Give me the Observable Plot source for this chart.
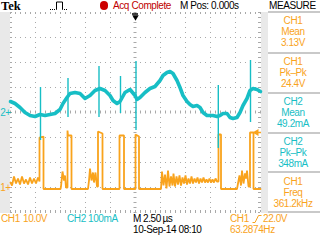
<!DOCTYPE html>
<html><head><meta charset="utf-8">
<script src="https://cdn.jsdelivr.net/npm/d3@7"></script>
<script src="https://cdn.jsdelivr.net/npm/@observablehq/plot@0.6"></script>
<style>
html,body{margin:0;padding:0;background:#fff;}
#scope{position:relative;width:320px;height:240px;overflow:hidden;background:#fff;
  font-family:"Liberation Sans",Arial,sans-serif;font-size:10px;letter-spacing:-0.4px;}
.t{position:absolute;white-space:pre;line-height:12px;height:12px;}
.strip{position:absolute;background:#e9e9e9;}
.sep{position:absolute;left:268px;width:52px;height:2px;background:#c9c9c9;}
</style></head><body>
<div id="scope"></div>
<script>
// ---- data (time in µs, CH1 in volts, CH2 in mA) ----
const ch1T = [
  -12.5,-12.35,-12.15,-11.95,-11.75,-11.55,-11.35,-11.15,-10.95,-10.75,-10.55,-10.35,-10.15,-9.95,-9.75,-9.6,
  -9.6,-9.2,-9.2,-7.5,
  -7.45,-7.3,-7.15,-7.05,-6.95,-6.8,-6.8,-6.75,-6.4,-6.4,-4.75,
  -4.65,-4.55,-4.4,-4.25,-4.15,-4.0,-3.85,-3.75,-3.75,-3.3,-3.3,
  -1.6,-1.6,-1.15,-1.15,0,0,0.35,0.35,2.55,
  2.65,2.8,2.95,3.1,3.25,3.4,3.55,3.7,3.8,3.95,4.1,4.25,4.4,4.55,4.7,4.85,5.0,5.15,5.3,5.45,
  5.6,5.75,5.9,6.05,6.2,6.35,6.5,6.65,6.8,6.95,7.1,7.25,7.4,7.55,7.7,7.85,8.0,8.15,8.3,
  8.3,8.55,8.55,10.15,10.25,10.4,10.55,10.65,10.8,10.95,11.05,11.15,11.3,11.45,11.45,11.8,11.8,12.5
];
const ch1V = [
  2.0,0.8,4.4,1.6,3.6,1.2,4.4,1.6,3.2,1.2,4.0,1.6,3.6,1.6,4.0,2.4,
  20.0,20.4,-0.6,-0.6,
  0.4,6.4,2.8,4.8,0,0,22.8,20.8,20.8,-0.6,-0.6,
  2.8,7.6,2.8,6.0,2.0,6.0,0.4,0.4,22.4,21.6,-0.6,
  -0.6,20.8,20.8,-0.6,-0.6,21.2,20.4,-0.6,-0.6,
  6.4,0.8,5.2,-0.4,6.8,0.4,4.4,0.8,5.6,0.4,4.4,1.2,4.8,0.8,4.0,1.6,4.8,1.2,3.6,1.6,
  4.4,1.6,3.6,2.0,4.0,1.6,3.6,2.0,4.0,2.0,3.2,2.0,3.6,2.0,3.2,2.0,3.6,2.4,2.4,
  21.2,21.2,-0.6,-0.6,1.6,4.8,0.8,6.8,1.6,5.6,3.6,6.8,0.4,0.4,22.0,22.0,-0.6,-0.6
];
const ch2T = [-12.5,-12.05,-11.55,-11.05,-10.55,-10.05,-9.55,-9.05,-8.55,-8.05,-7.55,-7.25,-6.85,-6.55,-6.05,
  -5.55,-5.05,-4.55,-4.05,-3.55,-3.05,-2.55,-2.25,-1.85,-1.55,-1.05,-0.55,-0.05,0.15,0.45,0.95,1.45,1.95,
  2.45,2.75,3.15,3.45,3.75,4.15,4.45,4.75,5.15,5.45,5.75,6.15,6.45,6.75,7.15,7.45,7.75,8.15,8.45,8.75,
  9.15,9.45,9.75,10.15,10.45,10.75,11.15,11.45,11.75,12.15,12.5];
const ch2I = [44,36,20,0,-12,-16,-8,-12,-8,-4,12,36,60,76,80,
  76,56,68,88,96,88,68,48,36,44,80,92,68,52,60,80,96,104,
  128,148,160,164,156,128,100,68,44,32,24,28,20,0,-12,-12,-12,-16,-12,-4,
  -4,-20,-24,-20,0,28,56,88,96,92,84];
const spikeT   = [-9.5,-6.75,-3.65,-1.5,0.05,8.28,11.5];
const spikeTop = [100,136,184,144,204,108,208];
const spikeBot = [-112,-20,-20,-4,-72,-144,-40];

const measCh   = ["CH1","CH1","CH2","CH2","CH1"];
const measType = ["Mean","Pk\u2013Pk","Mean","Pk\u2013Pk","Freq"];
const measVal  = ["3.13V","24.4V","49.2mA","348mA","361.2kHz"];
const trigLevel = 22.0; // V

const ORANGE = "#f9a31c", CYAN = "#17bec5", GRID = "#a9a9a9";
const v2div = v => v / 10 - 3;   // CH1: 10 V/div, ground 3 div below centre
const i2div = i => i / 100;      // CH2: 100 mA/div, ground at centre

const ch1 = ch1T.map((t, k) => ({t, y: v2div(ch1V[k])}));
const ch2 = ch2T.map((t, k) => ({t, y: i2div(ch2I[k])}));
const spikes = spikeT.map((t, k) => ({t, top: i2div(spikeTop[k]), bot: i2div(spikeBot[k])}));

const majorX = d3.range(-12.5, 12.51, 2.5);
const majorY = d3.range(-4, 4.01, 1);
const minorX = d3.range(-12.5, 12.51, 0.5);
const minorY = d3.range(-4, 4.01, 0.2);

const scope = document.getElementById("scope");
function box(cls, l, t, w, h) { const d = document.createElement("div"); d.className = cls;
  Object.assign(d.style, {left: l + "px", top: t + "px", width: w + "px", height: h + "px"}); scope.appendChild(d); return d; }
box("strip", 0, 12, 10, 201);
box("strip", 261, 12, 7, 201);

const FONT = "'Liberation Sans',Arial,sans-serif";
const svg = Plot.plot({
  width: 320, height: 240,
  marginLeft: 10, marginRight: 60, marginTop: 12, marginBottom: 28,
  x: {domain: [-12.5, 12.5], axis: null},
  y: {domain: [-4, 4], axis: null},
  style: {background: "transparent", fontFamily: FONT, fontSize: "10px"},
  marks: [
    Plot.ruleX(majorX, {stroke: GRID, strokeDasharray: "1,4"}),
    Plot.ruleY(majorY, {stroke: GRID, strokeDasharray: "1,4"}),
    Plot.ruleX(minorX, {y1: () => -0.06, y2: () => 0.06, stroke: GRID}),
    Plot.ruleY(minorY, {x1: () => -0.15, x2: () => 0.15, stroke: GRID}),
    Plot.ruleX(minorX, {y1: () => 4, y2: () => 3.92, stroke: GRID}),
    Plot.ruleX(minorX, {y1: () => -4, y2: () => -3.92, stroke: GRID}),
    Plot.ruleY(minorY, {x1: () => -12.5, x2: () => -12.3, stroke: GRID}),
    Plot.ruleY(minorY, {x1: () => 12.3, x2: () => 12.5, stroke: GRID}),
    Plot.line(ch1, {x: "t", y: "y", stroke: ORANGE, strokeWidth: 1.8, strokeLinejoin: "miter"}),
    Plot.line(ch2, {x: "t", y: "y", stroke: CYAN, strokeWidth: 3.6, strokeLinejoin: "round"}),
    Plot.ruleX(spikes, {x: "t", y1: "top", y2: "bot", stroke: CYAN, strokeWidth: 1.4}),
    // channel ground markers
    Plot.text(["2+"], {x: () => -12.5, y: () => i2div(0), text: d => d, dx: -5, fill: CYAN, textAnchor: "middle"}),
    Plot.text(["1+"], {x: () => -12.5, y: () => v2div(0), text: d => d, dx: -5, fill: ORANGE, textAnchor: "middle"}),
    // trigger level marker
    Plot.ruleY([trigLevel], {y: v2div, x1: () => 12.0, x2: () => 12.6, stroke: ORANGE, strokeWidth: 1.5}),
    Plot.dot([trigLevel], {x: () => 12.5, y: v2div, symbol: "triangle", rotate: -90, r: 2.6, fill: ORANGE, stroke: "none", dx: -4}),
    // trigger position marker
    Plot.ruleY([4], {x1: () => -0.3, x2: () => 0.3, stroke: "#000", strokeWidth: 1.5, dy: 1.5}),
    Plot.dot([0], {x: d => d, y: () => 4, symbol: "triangle", rotate: 180, r: 2.4, fill: "#000", stroke: "none", dy: 4.5})
  ]
});
svg.style.position = "absolute"; svg.style.left = "0px"; svg.style.top = "0px";
scope.appendChild(svg);

function put(txt, left, cy, color, extra) {
  const d = document.createElement("div"); d.className = "t"; d.textContent = txt;
  d.style.left = left + "px"; d.style.top = (cy - 6) + "px"; d.style.color = color;
  if (extra) Object.assign(d.style, extra); scope.appendChild(d); return d;
}
function putC(txt, cx, cy, color) { return put(txt, cx - 30, cy, color, {width: "60px", textAlign: "center"}); }

// header
put("Tek", 1, 5.5, "#000", {fontFamily: "'Liberation Serif',serif", fontWeight: "bold", fontSize: "12.5px", letterSpacing: "0px"});
const icon = document.createElementNS("http://www.w3.org/2000/svg", "svg");
icon.setAttribute("width", "22"); icon.setAttribute("height", "12");
Object.assign(icon.style, {position: "absolute", left: "48px", top: "0px"});
icon.innerHTML = '<path d="M1 9.5H8.5V2H14.5V9.5H20" fill="none" stroke="#000" stroke-width="1"/>' +
  '<path d="M1 9.5H8 M15 9.5H20" stroke="#fff" stroke-width="1.2" stroke-dasharray="1,1"/>';
scope.appendChild(icon);
const dot = box("", 99.8, 1, 8.6, 8.6); dot.style.position = "absolute"; dot.style.borderRadius = "50%"; dot.style.background = "#cc0000";
put("Acq Complete", 113, 5.5, "#c00000");
put("M Pos: 0.000s", 180, 5.5, "#000");
put("MEASURE", 269, 5.5, "#000");

// measure panel
[12, 53, 93, 133, 172, 212].forEach(y => box("sep", 268, y - 1, 52, 2));
const rowY = [21, 62, 102, 142, 182];
measCh.forEach((c, k) => {
  const col = c === "CH1" ? ORANGE : CYAN;
  putC(c, 293, rowY[k], col);
  putC(measType[k], 293, rowY[k] + 10.7, col);
  putC(measVal[k], 293, rowY[k] + 21.5, col);
});

// footer
put("CH1", 1, 219, ORANGE); put("10.0V", 23, 219, ORANGE);
put("CH2", 67, 219, CYAN); put("100mA", 88, 219, CYAN);
put("M", 133, 219, "#000"); put("2.50\u2009\u00b5s", 143, 219, "#000");
put("10-Sep-14 08:10", 133, 230, "#000");
put("CH1", 230, 219, ORANGE);
const edge = document.createElementNS("http://www.w3.org/2000/svg", "svg");
edge.setAttribute("width", "10"); edge.setAttribute("height", "10");
Object.assign(edge.style, {position: "absolute", left: "252px", top: "214px"});
edge.innerHTML = '<path d="M0.5 8.5H3L6.5 1.5H9.5" fill="none" stroke="' + ORANGE + '" stroke-width="1"/>';
scope.appendChild(edge);
put("22.0V", 263, 219, ORANGE);
put("63.2874Hz", 230, 230, ORANGE);
</script>
</body></html>
